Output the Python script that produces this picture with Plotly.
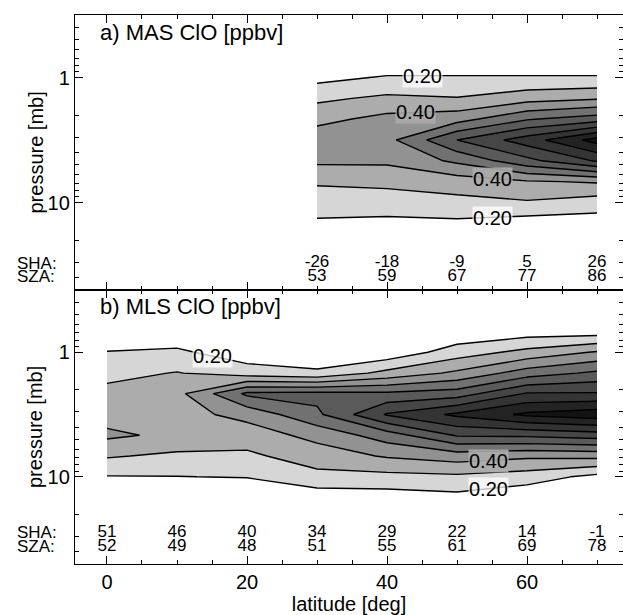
import numpy as np
import plotly.graph_objects as go

# ---------------- data ----------------
pressure_mb = [0.464, 0.681, 1.0, 1.47, 2.15, 3.16, 4.64, 6.81, 10.0, 14.7, 21.5]

mas_lat = [30, 40, 50, 60, 70]
mas_clo = [  # rows: pressure levels, cols: latitude
    [0.03, 0.03, 0.03, 0.03, 0.03],
    [0.05, 0.10, 0.10, 0.10, 0.10],
    [0.17, 0.21, 0.21, 0.21, 0.21],
    [0.28, 0.32, 0.305, 0.36, 0.39],
    [0.37, 0.43, 0.46, 0.59, 0.65],
    [0.46, 0.47, 0.70, 0.85, 1.04],
    [0.42, 0.42, 0.52, 0.67, 0.81],
    [0.31, 0.32, 0.35, 0.39, 0.41],
    [0.26, 0.26, 0.27, 0.29, 0.25],
    [0.18, 0.17, 0.18, 0.15, 0.15],
    [0.10, 0.10, 0.10, 0.10, 0.10],
]
mas_sha = [-26, -18, -9, 5, 26]
mas_sza = [53, 59, 67, 77, 86]
# contour labels: (text, latitude, pressure)
mas_labels = [("0.20", 45, 0.97), ("0.40", 44, 1.9), ("0.40", 55, 6.45), ("0.20", 55, 13.2)]

mls_lat = [0, 10, 20, 30, 40, 50, 60, 70]
mls_clo = [
    [0.05, 0.05, 0.05, 0.05, 0.05, 0.05, 0.10, 0.10],
    [0.10, 0.12, 0.08, 0.06, 0.08, 0.12, 0.15, 0.15],
    [0.205, 0.22, 0.14, 0.12, 0.13, 0.25, 0.33, 0.41],
    [0.27, 0.305, 0.25, 0.22, 0.33, 0.42, 0.55, 0.62],
    [0.33, 0.37, 0.62, 0.63, 0.62, 0.65, 0.81, 0.81],
    [0.36, 0.365, 0.43, 0.58, 0.81, 0.92, 1.02, 1.06],
    [0.42, 0.377, 0.35, 0.43, 0.55, 0.71, 0.72, 0.75],
    [0.31, 0.28, 0.28, 0.35, 0.41, 0.45, 0.42, 0.43],
    [0.195, 0.198, 0.205, 0.27, 0.27, 0.28, 0.25, 0.17],
    [0.10, 0.10, 0.10, 0.14, 0.15, 0.17, 0.12, 0.10],
    [0.05, 0.05, 0.05, 0.05, 0.05, 0.10, 0.05, 0.05],
]
mls_sha = [51, 46, 40, 34, 29, 22, 14, -1]
mls_sza = [52, 49, 48, 51, 55, 61, 69, 78]
mls_labels = [("0.20", 15, 1.08), ("0.40", 54.5, 7.4), ("0.20", 54.5, 12.5)]

y_major = [1, 10]
y_major_text = ["1", "10"]
y_minor = [0.4, 0.5, 0.6, 0.7, 0.8, 0.9, 2, 3, 4, 5, 6, 7, 8, 9, 20, 30, 40, 50]
x_major = [0, 20, 40, 60]

# ---------------- styling ----------------
FONT = "Liberation Sans, Arial, Helvetica, sans-serif"
grays = ["#ffffff", "#d6d6d6", "#acacac", "#929292", "#717171",
         "#5a5a5a", "#464646", "#343434", "#232323", "#131313"]
colorscale = [[k / 9, c] for k, c in enumerate(grays)]
label_bg = {"0.20": "rgba(255,255,255,0.75)", "0.40": "rgba(172,172,172,0.9)"}

logp = np.log10(pressure_mb)

fig = go.Figure()


def add_panel(lat, clo, labels, xa, ya):
    common = dict(x=lat, y=logp, z=clo, xaxis=xa, yaxis=ya, showscale=False,
                  hoverinfo="skip")
    fig.add_trace(go.Contour(**common, colorscale=colorscale, zmin=0.15, zmax=1.05,
                             contours=dict(start=0.2, end=1.0, size=0.1,
                                           coloring="fill", showlines=True),
                             line=dict(color="black", width=1.4, smoothing=0)))
    for txt, la, p in labels:
        fig.add_annotation(xref=xa, yref=ya, x=la, y=np.log10(p), text=txt,
                           showarrow=False, bgcolor=label_bg[txt], borderpad=0,
                           font=dict(family=FONT, size=20, color="black"))


add_panel(mas_lat, mas_clo, mas_labels, "x", "y")
add_panel(mls_lat, mls_clo, mls_labels, "x2", "y2")

# SHA / SZA rows
row_a = np.log10([30.5, 39.3])
row_b = np.log10([28.0, 36.2])
PLOT_W = 548.0
for lat, sha, sza, rows, xa, ya in [(mas_lat, mas_sha, mas_sza, row_a, "x", "y"),
                                     (mls_lat, mls_sha, mls_sza, row_b, "x2", "y2")]:
    for vals, r in [(sha, rows[0]), (sza, rows[1])]:
        fig.add_trace(go.Scatter(x=lat, y=[r] * len(lat), mode="text",
                                 text=[str(v) for v in vals], xaxis=xa, yaxis=ya,
                                 textfont=dict(family=FONT, size=17, color="black"),
                                 hoverinfo="skip", showlegend=False, cliponaxis=False))
    for txt, r in [("SHA:", rows[0]), ("SZA:", rows[1])]:
        fig.add_annotation(xref="paper", yref=ya, x=(15 - 75) / PLOT_W, y=r, text=txt,
                           showarrow=False, xanchor="left", yanchor="middle",
                           font=dict(family=FONT, size=17, color="black"))

split = 274 / 549
for ya in ["y", "y2"]:
    fig.add_annotation(xref="paper", yref=ya + " domain", x=(35 - 75) / PLOT_W, y=0.5,
                       text="pressure [mb]", textangle=-90, showarrow=False,
                       xanchor="center", yanchor="middle",
                       font=dict(family=FONT, size=20, color="black"))

fig.add_annotation(xref="x domain", yref="y domain", x=0.042, y=0.935,
                   text="a) MAS ClO [ppbv]", showarrow=False, xanchor="left",
                   yanchor="middle", font=dict(family=FONT, size=22, color="black"))
fig.add_annotation(xref="x2 domain", yref="y2 domain", x=0.042, y=0.94,
                   text="b) MLS ClO [ppbv]", showarrow=False, xanchor="left",
                   yanchor="middle", font=dict(family=FONT, size=22, color="black"))

xrange = [-4.57, 73.71]
yrange = [1.7, -0.5]
axline = dict(showline=True, linecolor="black", linewidth=1.3, mirror="ticks",
              ticks="inside", tickcolor="black", tickwidth=1.3, showgrid=False,
              zeroline=False)
xax = dict(axline, range=xrange, tickmode="array", tickvals=x_major, ticklen=8,
           minor=dict(dtick=5, tick0=0, ticks="inside", ticklen=4, tickcolor="black",
                      tickwidth=1.2, showgrid=False),
           tickfont=dict(family=FONT, size=20, color="black"))
yax = dict(axline, range=yrange, tickmode="array", tickvals=list(np.log10(y_major)),
           ticktext=y_major_text, ticklen=8,
           minor=dict(tickmode="array", tickvals=list(np.log10(y_minor)), ticks="inside",
                      ticklen=4, tickcolor="black", tickwidth=1.2, showgrid=False),
           tickfont=dict(family=FONT, size=20, color="black"))

fig.update_layout(
    width=623, height=615,
    margin=dict(l=75, r=0, t=15, b=51),
    paper_bgcolor="white", plot_bgcolor="white",
    showlegend=False,
    xaxis=dict(xax, anchor="y", showticklabels=False),
    yaxis=dict(yax, domain=[split, 1], anchor="x"),
    xaxis2=dict(xax, anchor="y2",
                title=dict(text="latitude [deg]", font=dict(family=FONT, size=20,
                                                            color="black"), standoff=0)),
    yaxis2=dict(yax, domain=[0, split], anchor="x2"),
)

fig.write_html("out.html", config={"displayModeBar": False},
               post_script="document.body.style.margin='0';"
                           "document.body.style.overflow='hidden';")
